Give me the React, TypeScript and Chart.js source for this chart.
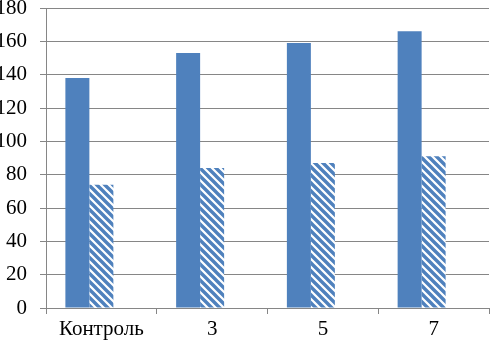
import React, { useEffect, useRef } from "react";
import { Chart, registerables } from "chart.js";

Chart.register(...registerables);

const categories = ["Контроль", "3", "5", "7"];
const seriesSolid = [138, 153, 159, 166];
const seriesHatched = [74, 84, 87, 91];
const seriesEmpty: (number | null)[] = [null, null, null, null];
const yMin = 0;
const yMax = 180;
const yStep = 20;

const BLUE = "#4F81BD";
const GRID = "#868686";
const FONT = "'Liberation Serif', 'Times New Roman', serif";

function makeHatch(): CanvasPattern | string {
  const c = document.createElement("canvas");
  const s = 8;
  c.width = s;
  c.height = s;
  const ctx = c.getContext("2d");
  if (!ctx) return BLUE;
  ctx.fillStyle = "#ffffff";
  ctx.fillRect(0, 0, s, s);
  ctx.strokeStyle = BLUE;
  ctx.lineWidth = 3.4;
  ctx.beginPath();
  ctx.moveTo(-s, 0);
  ctx.lineTo(s, 2 * s);
  ctx.moveTo(0, 0);
  ctx.lineTo(s, s);
  ctx.moveTo(0, -s);
  ctx.lineTo(2 * s, s);
  ctx.stroke();
  const p = ctx.createPattern(c, "repeat");
  return p || BLUE;
}

export default function App() {
  const ref = useRef<HTMLCanvasElement>(null);
  useEffect(() => {
    if (!ref.current) return;
    const hatch = makeHatch();
    const chart = new Chart(ref.current, {
      type: "bar",
      data: {
        labels: categories,
        datasets: [
          { label: "A", data: seriesSolid, backgroundColor: BLUE, borderWidth: 0 },
          { label: "B", data: seriesHatched, backgroundColor: hatch as any, borderWidth: 0 },
          { label: "C", data: seriesEmpty as any, backgroundColor: BLUE, borderWidth: 0 },
        ],
      },
      options: {
        animation: false,
        responsive: false,
        maintainAspectRatio: false,
        layout: { padding: { top: 8, right: 1, left: 0, bottom: 0 } },
        plugins: { legend: { display: false }, tooltip: { enabled: false } },
        datasets: { bar: { categoryPercentage: 0.65, barPercentage: 1 } },
        scales: {
          x: {
            offset: true,
            grid: {
              display: true,
              offset: true,
              drawOnChartArea: false,
              drawTicks: true,
              tickLength: 6,
              color: GRID,
            },
            border: { color: GRID, width: 1 },
            ticks: {
              color: "#000",
              font: { family: FONT, size: 21 },
              padding: 3,
              maxRotation: 0,
              autoSkip: false,
            },
            afterFit: (s: any) => {
              s.height = 36;
              s.paddingLeft = 0;
              s.paddingRight = 0;
            },
          },
          y: {
            min: yMin,
            max: yMax,
            ticks: {
              stepSize: yStep,
              color: "#000",
              font: { family: FONT, size: 21 },
              padding: 13,
            },
            grid: { color: GRID, lineWidth: 1, tickLength: 6, drawTicks: true },
            border: { color: GRID, width: 1 },
            afterFit: (s: any) => {
              s.width = 46;
              s.paddingTop = 0;
              s.paddingBottom = 0;
            },
          },
        },
      },
    });
    return () => chart.destroy();
  }, []);
  return (
    <div style={{ position: "fixed", left: 0, top: 0, width: 490, height: 344, background: "#fff" }}>
      <canvas ref={ref} width={490} height={344} style={{ display: "block" }} />
    </div>
  );
}
